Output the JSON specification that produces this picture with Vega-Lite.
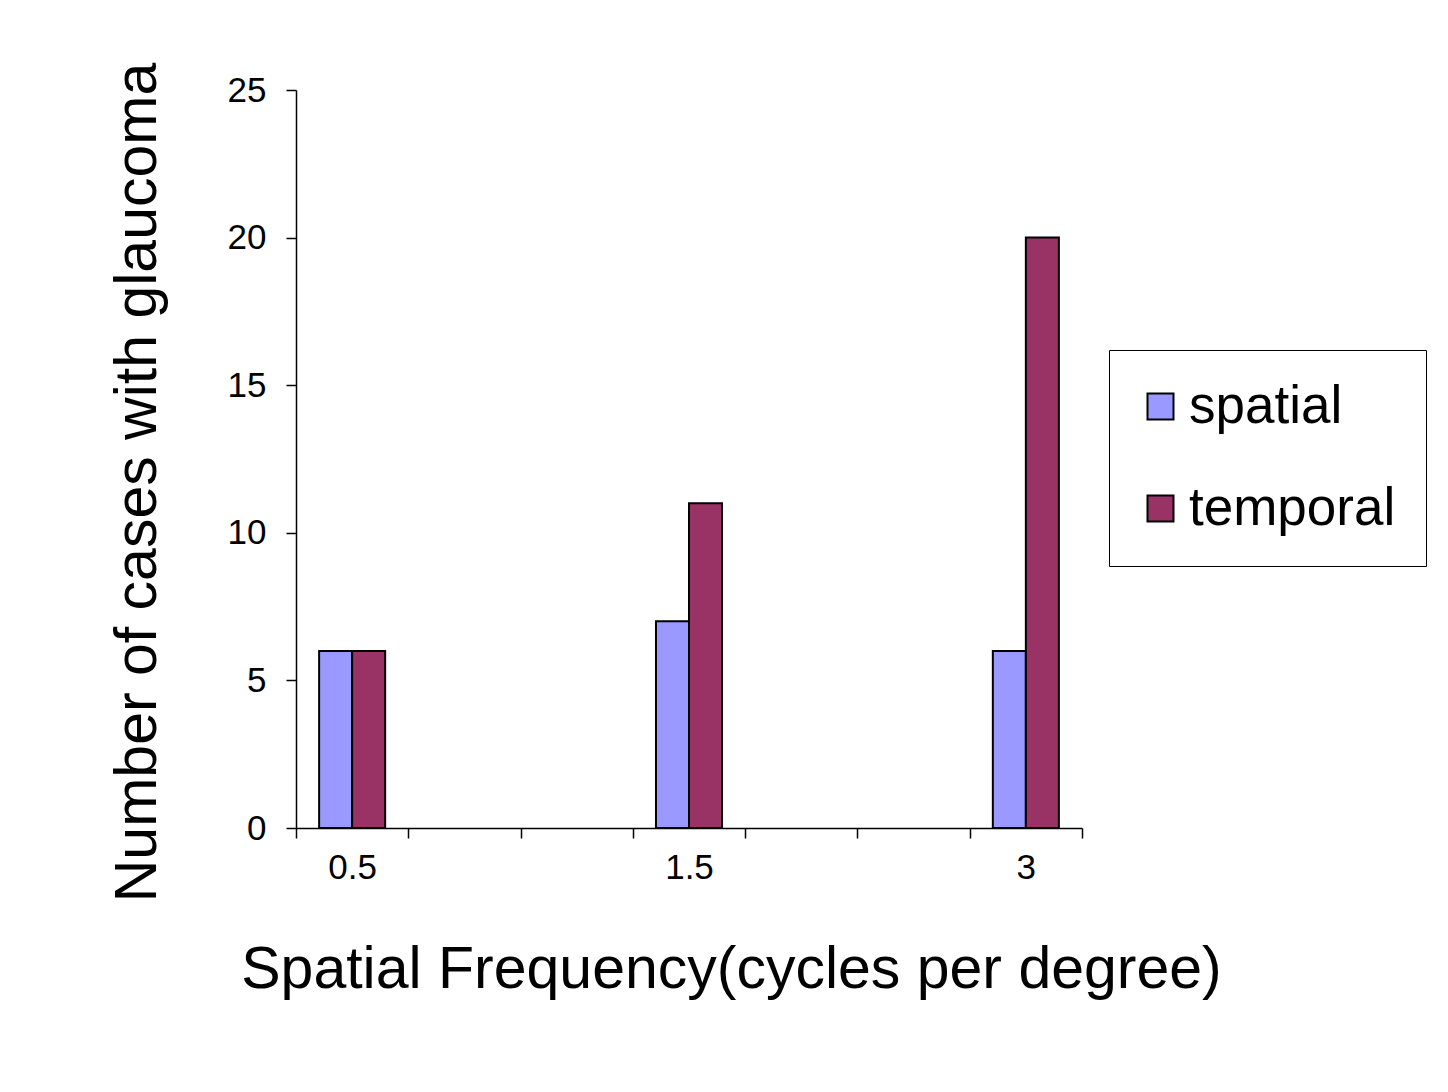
{
  "$schema": "https://vega.github.io/schema/vega-lite/v6.json",
  "autosize": {"type": "none"},
  "padding": {"left": 296, "top": 90, "right": 366, "bottom": 264},
  "width": 786,
  "height": 738,
  "background": "white",
  "config": {
    "view": {"stroke": null},
    "font": "Liberation Sans"
  },
  "data": {
    "values": [
      {"freq": "0.5", "type": "spatial", "cases": 6},
      {"freq": "0.5", "type": "temporal", "cases": 6},
      {"freq": "1.5", "type": "spatial", "cases": 7},
      {"freq": "1.5", "type": "temporal", "cases": 11},
      {"freq": "3", "type": "spatial", "cases": 6},
      {"freq": "3", "type": "temporal", "cases": 20}
    ]
  },
  "mark": {"type": "bar", "stroke": "black", "strokeWidth": 2},
  "encoding": {
    "x": {
      "field": "freq",
      "type": "nominal",
      "scale": {"domain": ["0.5", "e1", "e2", "1.5", "e3", "e4", "3"], "paddingInner": 0, "paddingOuter": 0},
      "axis": {
        "title": "Spatial Frequency(cycles per degree)",
        "titleFontSize": 59,
        "titleFontWeight": "normal",
        "titleColor": "black",
        "titlePadding": 55,
        "titleX": 435,
        "titleAlign": "center",
        "labelExpr": "indexof(['0.5','1.5','3'], datum.value) >= 0 ? datum.value : ''",
        "labelAngle": 0,
        "labelFontSize": 35,
        "labelColor": "black",
        "labelPadding": 12,
        "tickBand": "extent",
        "tickSize": 10,
        "tickColor": "black",
        "tickWidth": 1.5,
        "domainColor": "black",
        "domainWidth": 1.5
      }
    },
    "xOffset": {
      "field": "type",
      "type": "nominal",
      "scale": {"paddingInner": 0, "paddingOuter": 0.7}
    },
    "y": {
      "field": "cases",
      "type": "quantitative",
      "scale": {"domain": [0, 25]},
      "axis": {
        "title": "Number of cases with glaucoma",
        "titleFontSize": 59,
        "titleFontWeight": "normal",
        "titleColor": "black",
        "titlePadding": 60,
        "titleY": 392,
        "titleAlign": "center",
        "values": [0, 5, 10, 15, 20, 25],
        "grid": false,
        "labelFontSize": 35,
        "labelColor": "black",
        "labelPadding": 20,
        "tickSize": 10,
        "tickColor": "black",
        "tickWidth": 1.5,
        "domainColor": "black",
        "domainWidth": 1.5
      }
    },
    "color": {
      "field": "type",
      "type": "nominal",
      "scale": {"domain": ["spatial", "temporal"], "range": ["#9999FF", "#993366"]},
      "legend": {
        "title": null,
        "orient": "none",
        "legendX": 813,
        "legendY": 260,
        "strokeColor": "black",
        "fillColor": "white",
        "padding": 30,
        "symbolOffset": -5,
        "rowPadding": 48,
        "symbolType": "square",
        "symbolSize": 676,
        "symbolStrokeColor": "black",
        "symbolStrokeWidth": 2,
        "labelFontSize": 53,
        "labelColor": "black",
        "labelOffset": 2,
        "labelLimit": 400
      }
    }
  }
}
